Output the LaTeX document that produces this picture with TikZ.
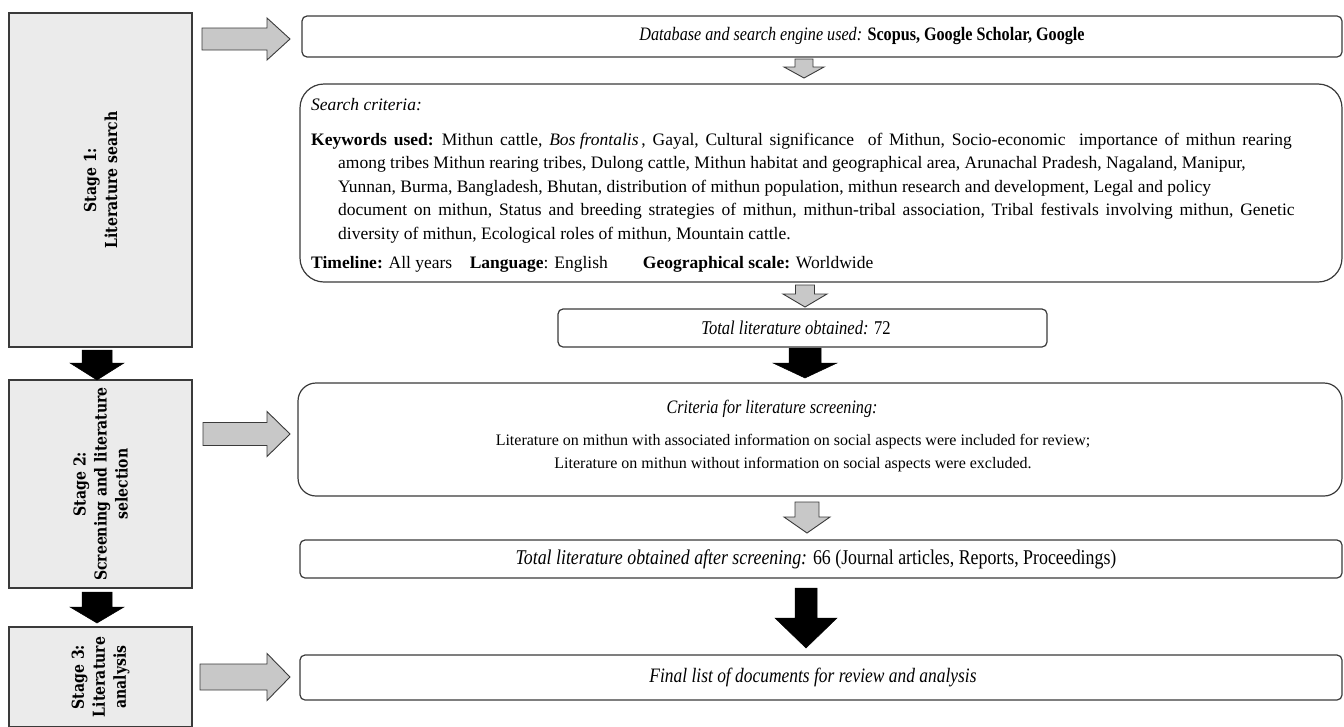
\documentclass[tikz,border=0pt]{standalone}
\usepackage{fontspec}
\setmainfont{Liberation Serif}
\newfontfamily\stagefont[FakeStretch=0.85]{DejaVu Serif}
\newfontfamily\condfont[FakeStretch=0.85]{Liberation Serif}
\definecolor{edgec}{HTML}{3A3A3A}
\definecolor{stagefill}{HTML}{EBEBEB}
\definecolor{arrowgray}{HTML}{C8C8C8}
\newcommand{\blkdown}[7]{\filldraw[#7] ({#1-#5},#2) -- ({#1+#5},#2) -- ({#1+#5},#3) -- ({#1+#6},#3) -- (#1,#4) -- ({#1-#6},#3) -- ({#1-#5},#3) -- cycle;}
\newcommand{\blkright}[7]{\filldraw[#7] (#2,{#1-#5}) -- (#3,{#1-#5}) -- (#3,{#1-#6}) -- (#4,#1) -- (#3,{#1+#6}) -- (#3,{#1+#5}) -- (#2,{#1+#5}) -- cycle;}
\newcommand{\wsp}{\hspace{2.4pt} }
\newcommand{\indline}{\hspace*{27pt}}
\begin{document}
\begin{tikzpicture}[x=1pt,y=-1pt,
  stagebox/.style={draw=edgec, line width=1.2pt, fill=stagefill, inner sep=0pt},
  stagelabel/.style={rotate=90, align=center, inner sep=0pt, font=\stagefont\bfseries\fontsize{16.5}{21}\selectfont},
  flowbox/.style={draw=edgec, line width=1.2pt, rounded corners=5pt, fill=white, inner sep=0pt},
  bigbox/.style={flowbox, rounded corners=#1},
  txt/.style={inner sep=0pt, font=\fontsize{17.5}{23.4}\selectfont},
  ctxt/.style={inner sep=0pt, font=\condfont\fontsize{#1}{23}\selectfont},
  grayarrow/.style={draw=edgec, line width=0.9pt, fill=arrowgray, line join=miter},
  blackarrow/.style={draw=black, fill=black, line width=0.5pt}]
\useasboundingbox (0,0) rectangle (1344,726);
% stage boxes
\node[stagebox, minimum width=183pt, minimum height=334pt] (s1) at (100.5,180) {};
\node[stagebox, minimum width=183pt, minimum height=208pt] (s2) at (100.5,484) {};
\node[stagebox, minimum width=183pt, minimum height=100pt] (s3) at (100.5,677) {};
\node[stagelabel] (s1t) at (s1.center) {Stage 1:\\Literature search};
\node[stagelabel] (s2t) at (s2.center) {Stage 2:\\Screening and literature\\selection};
\node[stagelabel] (s3t) at (s3.center) {Stage 3:\\Literature\\analysis};
% flow boxes
\node[flowbox, minimum width=1040pt, minimum height=41pt] (bA) at (822,36.5) {};
\node[bigbox=24pt, minimum width=1042pt, minimum height=198pt] (bB) at (821,183) {};
\node[flowbox, minimum width=489pt, minimum height=38pt] (bC) at (802.5,328) {};
\node[bigbox=18pt, minimum width=1044pt, minimum height=113pt] (bD) at (820,439.5) {};
\node[flowbox, minimum width=1042pt, minimum height=38pt] (bE) at (821,559) {};
\node[flowbox, minimum width=1042pt, minimum height=45pt] (bF) at (821,677.5) {};
% texts
\node[ctxt=19] (tA) at (862,36.5) {\itshape Database and search engine used: \upshape\bfseries Scopus, Google Scholar, Google};
\node[txt, anchor=base west] (tB0) at (311,110) {\itshape Search criteria:};
\node[txt, align=left, anchor=north west] (tBK) at (311,133) {\textbf{Keywords}\wsp\textbf{used:}\wsp Mithun\wsp cattle,\wsp \textit{Bos frontalis}\,,\wsp Gayal,\wsp Cultural\wsp significance\wsp\wsp of\wsp Mithun,\wsp Socio-economic\wsp\wsp importance\wsp of\wsp mithun\wsp rearing\\
\indline among tribes Mithun rearing tribes, Dulong cattle, Mithun habitat and geographical area, Arunachal Pradesh, Nagaland, Manipur,\\
\indline Yunnan, Burma, Bangladesh, Bhutan, distribution of mithun population, mithun research and development, Legal and policy\\
\indline document\wsp on\wsp mithun,\wsp Status\wsp and\wsp breeding\wsp strategies\wsp of\wsp mithun,\wsp mithun-tribal\wsp association,\wsp Tribal\wsp festivals\wsp involving\wsp mithun,\wsp Genetic\\
\indline diversity of mithun, Ecological roles of mithun, Mountain cattle.};
\node[txt, anchor=base west] (tB6) at (311,268) {\textbf{Timeline:} All years\quad \textbf{Language}: English\qquad \textbf{Geographical scale:} Worldwide};
\node[ctxt=19.5] (tC) at (796,328) {\itshape Total literature obtained: \upshape 72};
\node[ctxt=19] (tD0) at (772,409) {\itshape Criteria for literature screening:};
\node[txt, align=center, font=\fontsize{16}{23}\selectfont] (tD1) at (793,453.5) {Literature on mithun with associated information on social aspects were included for review;\\Literature on mithun without information on social aspects were excluded.};
\node[ctxt=21] (tE) at (816,559) {\itshape Total literature obtained after screening: \upshape 66 (Journal articles, Reports, Proceedings)};
\node[ctxt=20.5] (tF) at (813,677.5) {\itshape Final list of documents for review and analysis};
% gray right arrows
\blkright{39}{202}{267}{290}{11}{21}{grayarrow}
\blkright{434}{203}{267}{290}{11.5}{22.5}{grayarrow}
\blkright{677}{200}{267}{290}{13}{23.5}{grayarrow}
% gray down arrows
\blkdown{804}{59}{67}{78}{9}{20}{grayarrow}
\blkdown{805}{285}{294}{307}{9.5}{22}{grayarrow}
\blkdown{807}{502}{517}{533}{12}{23}{grayarrow}
% black down arrows
\blkdown{805}{348}{363}{378}{16}{32}{blackarrow}
\blkdown{806}{588}{618}{648}{11}{31}{blackarrow}
\blkdown{97}{350}{363}{380}{15}{27}{blackarrow}
\blkdown{97}{592}{607}{623}{15}{27}{blackarrow}
\end{tikzpicture}
\end{document}
